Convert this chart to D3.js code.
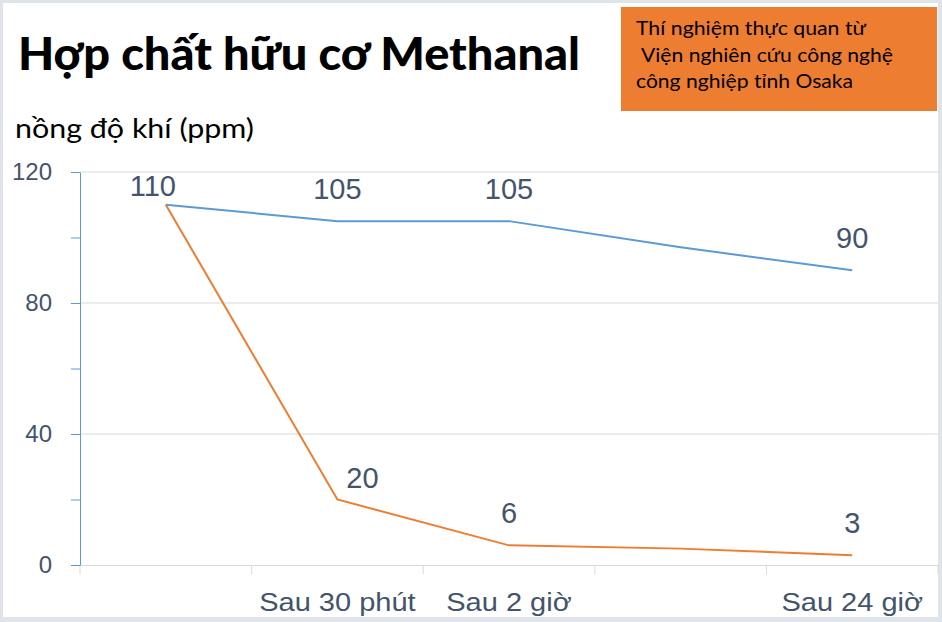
<!DOCTYPE html>
<html><head><meta charset="utf-8">
<script src="https://cdn.jsdelivr.net/npm/d3@7"></script>
<style>html,body{margin:0;padding:0;background:#fff}svg{display:block}</style>
</head><body>
<script>
const categories = ["", "Sau 30 phút", "Sau 2 giờ", "", "Sau 24 giờ"];
const seriesBlue = [110, 105, 105, 97, 90];
const seriesOrange = [110, 20, 6, 5, 3];
const blueLabels = ["110", "105", "105", null, "90"];
const orangeLabels = [null, "20", "6", null, "3"];
const yTicks = [0, 20, 40, 60, 80, 100, 120];
const yTickLabels = [0, 40, 80, 120];
const titleText = "Hợp chất hữu cơ Methanal";
const unitText = "nồng độ khí (ppm)";
const noteLines = ["Thí nghiệm thực quan từ", " Viện nghiên cứu công nghệ", "công nghiệp tỉnh Osaka"];

const W = 942, H = 622;
const svg = d3.select("body").append("svg").attr("width", W).attr("height", H);
const textColor = "#44546a", blue = "#5b9bd5", orange = "#ed7d31", grid = "#d9d9d9";

svg.append("rect").attr("width", W).attr("height", H).attr("fill", "#dfe3ea");
svg.append("rect").attr("x", 3).attr("y", 3).attr("width", 935).attr("height", 614).attr("fill", "#fff");

const x = d3.scaleBand().domain(d3.range(categories.length)).range([80, 938]);
const y = d3.scaleLinear().domain([0, 120]).range([565, 172]);
const cx = i => x(i) + x.bandwidth() / 2;

// gridlines
svg.append("g").selectAll("line").data(yTickLabels.filter(d => d > 0)).join("line")
  .attr("x1", 80).attr("x2", 938).attr("y1", d => y(d)).attr("y2", d => y(d))
  .attr("stroke", grid).attr("stroke-width", 1);

// x axis
const xAxis = svg.append("g").attr("transform", "translate(0,565)")
  .call(d3.axisBottom(x).tickSize(0).tickFormat(i => categories[i]));
xAxis.select(".domain").attr("stroke", grid);
xAxis.selectAll("text").attr("font-family", "Liberation Sans, Arial, sans-serif")
  .attr("font-size", 25).attr("fill", textColor).attr("dy", 0).attr("y", 46)
  .each(function () {
    const len = this.getComputedTextLength();
    if (len > 0) d3.select(this).attr("textLength", len * 1.16).attr("lengthAdjust", "spacingAndGlyphs");
  });
svg.append("g").selectAll("line").data(d3.range(categories.length + 1)).join("line")
  .attr("x1", i => i < categories.length ? x(i) : 938).attr("x2", i => i < categories.length ? x(i) : 938)
  .attr("y1", 565).attr("y2", 574).attr("stroke", grid);

// y axis
const yAxis = svg.append("g").attr("transform", "translate(80,0)")
  .call(d3.axisLeft(y).tickValues(yTicks).tickSize(9).tickSizeOuter(0)
    .tickFormat(d => yTickLabels.includes(d) ? d : ""));
yAxis.select(".domain").attr("stroke", blue);
yAxis.selectAll(".tick line").attr("stroke", blue);
yAxis.selectAll("text").attr("font-family", "Liberation Sans, Arial, sans-serif")
  .attr("font-size", 24).attr("fill", textColor).attr("x", -28);

// lines
const line = d3.line().x((d, i) => cx(i)).y(d => y(d));
svg.append("path").datum(seriesBlue).attr("d", line).attr("fill", "none").attr("stroke", blue).attr("stroke-width", 2);
svg.append("path").datum(seriesOrange).attr("d", line).attr("fill", "none").attr("stroke", orange).attr("stroke-width", 2);

// data labels
const nudge = { "blue0": [-13, -9], "orange1": [25, -12] };
function labels(vals, labs, key) {
  svg.append("g").selectAll("text").data(vals.map((v, i) => ({ v, i, t: labs[i] })).filter(d => d.t !== null)).join("text")
    .attr("x", d => cx(d.i) + ((nudge[key + d.i] || [0, -22])[0]))
    .attr("y", d => y(d.v) + ((nudge[key + d.i] || [0, -22])[1]))
    .attr("text-anchor", "middle").attr("font-family", "Liberation Sans, Arial, sans-serif")
    .attr("font-size", 29).attr("fill", textColor).text(d => d.t);
}
labels(seriesBlue, blueLabels, "blue");
labels(seriesOrange, orangeLabels, "orange");

// title
svg.append("text").attr("x", 18).attr("y", 70).attr("font-family", "Lato, sans-serif").attr("font-weight", 900)
  .attr("font-size", 46).attr("fill", "#000").attr("textLength", 562).attr("lengthAdjust", "spacingAndGlyphs").text(titleText);
svg.append("text").attr("x", 15).attr("y", 138).attr("font-family", "Lato, sans-serif")
  .attr("font-size", 27).attr("fill", "#000").attr("textLength", 239).attr("lengthAdjust", "spacingAndGlyphs").text(unitText);

// note box
svg.append("rect").attr("x", 621).attr("y", 7).attr("width", 316).attr("height", 104).attr("fill", orange);
const noteX = [636, 641, 636], noteLen = [230, 252, 217];
svg.append("g").selectAll("text").data(noteLines).join("text")
  .attr("x", (d, i) => noteX[i]).attr("y", (d, i) => 35 + i * 26.5)
  .attr("font-family", "Lato, sans-serif").attr("font-size", 20).attr("fill", "#000")
  .attr("textLength", (d, i) => noteLen[i]).attr("lengthAdjust", "spacingAndGlyphs")
  .text(d => d.trim());
</script>
</body></html>
